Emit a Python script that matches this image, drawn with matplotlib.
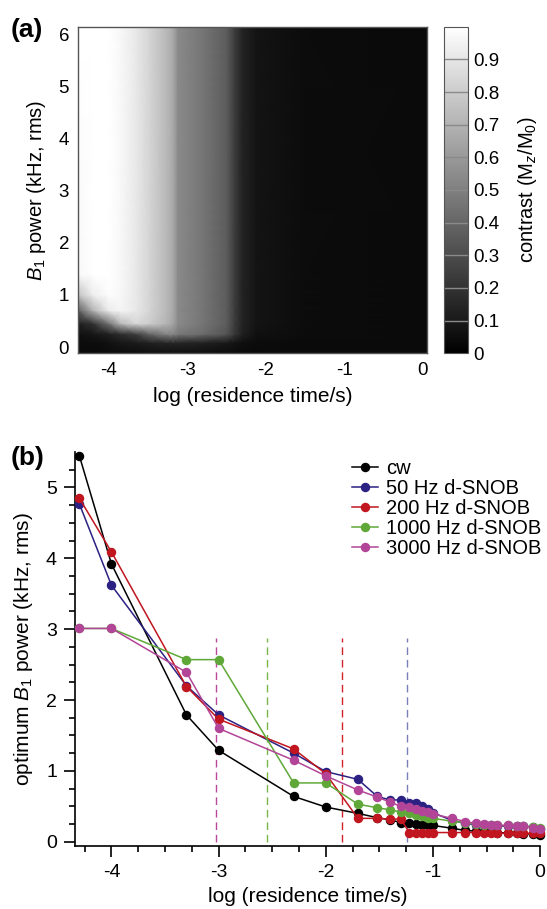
import matplotlib
matplotlib.use("Agg")
import matplotlib.pyplot as plt
import numpy as np

plt.rcParams['font.family'] = ['Liberation Sans', 'DejaVu Sans']
plt.rcParams['mathtext.fontset'] = 'custom'
plt.rcParams['mathtext.rm'] = 'Liberation Sans'
plt.rcParams['mathtext.it'] = 'Liberation Sans:italic'
plt.rcParams['axes.unicode_minus'] = False

# ---- panel (a): contrast map on a coarse grid ----
map_logt = [-4.4, -4.2, -4.0, -3.85, -3.65, -3.48, -3.26, -3.18, -3.12, -2.8, -2.5, -2.4,
            -2.3, -2.12, -1.5, 0.06]
map_b1 = [-0.12, 0.08, 0.25, 0.45, 0.7, 1.0, 1.4, 6.15]
map_contrast = [
    [0.04, 0.04, 0.05, 0.05, 0.05, 0.06, 0.06, 0.06, 0.06, 0.06, 0.05, 0.05, 0.04, 0.04, 0.04, 0.04],
    [0.05, 0.05, 0.07, 0.09, 0.11, 0.13, 0.15, 0.15, 0.15, 0.13, 0.10, 0.08, 0.06, 0.05, 0.04, 0.04],
    [0.07, 0.09, 0.13, 0.18, 0.25, 0.40, 0.52, 0.52, 0.48, 0.42, 0.33, 0.22, 0.13, 0.07, 0.05, 0.04],
    [0.12, 0.20, 0.45, 0.72, 0.84, 0.80, 0.70, 0.64, 0.54, 0.46, 0.36, 0.24, 0.14, 0.08, 0.05, 0.04],
    [0.35, 0.70, 0.92, 0.96, 0.91, 0.83, 0.72, 0.66, 0.54, 0.46, 0.36, 0.24, 0.14, 0.08, 0.05, 0.04],
    [0.75, 0.93, 0.99, 0.97, 0.91, 0.83, 0.72, 0.66, 0.54, 0.46, 0.36, 0.24, 0.14, 0.08, 0.05, 0.04],
    [0.97, 1.00, 1.00, 0.97, 0.91, 0.83, 0.72, 0.66, 0.54, 0.46, 0.36, 0.24, 0.14, 0.08, 0.05, 0.04],
    [1.00, 1.00, 1.00, 0.97, 0.91, 0.83, 0.72, 0.66, 0.54, 0.46, 0.36, 0.24, 0.14, 0.08, 0.05, 0.04],
]
cbar_ticks = [0, 0.1, 0.2, 0.3, 0.4, 0.5, 0.6, 0.7, 0.8, 0.9]

# ---- panel (b): optimum B1 power vs residence time ----
log_t = [-4.3, -4.0, -3.3, -3.0, -2.3, -2.0, -1.7, -1.52, -1.4, -1.3, -1.22, -1.155, -1.1,
         -1.046, -1.0, -0.82, -0.7, -0.6, -0.52, -0.456, -0.4, -0.3, -0.22, -0.155, -0.07, 0.0]
cw = [5.45, 3.92, 1.79, 1.29, 0.64, 0.49, 0.40, 0.34, 0.31, 0.27, 0.26, 0.25, 0.24,
      0.235, 0.23, 0.19, 0.16, 0.15, 0.14, 0.135, 0.13, 0.125, 0.12, 0.115, 0.11, 0.10]
snob_50 = [4.77, 3.62, 2.20, 1.79, 1.25, 0.99, 0.88, 0.64, 0.59, 0.59, 0.55, 0.54, 0.51,
           0.46, 0.41, 0.30, 0.26, 0.24, 0.23, 0.23, 0.22, 0.22, 0.22, 0.22, 0.21, 0.18]
snob_200 = [4.85, 4.09, 2.19, 1.73, 1.31, 0.96, 0.33, 0.33, 0.32, 0.32, 0.13, 0.13, 0.13,
            0.13, 0.13, 0.13, 0.13, 0.13, 0.12, 0.12, 0.12, 0.12, 0.12, 0.12, 0.12, 0.12]
snob_1000 = [3.01, 3.01, 2.57, 2.57, 0.83, 0.83, 0.53, 0.48, 0.45, 0.42, 0.40, 0.38, 0.36,
             0.34, 0.33, 0.29, 0.27, 0.25, 0.24, 0.235, 0.23, 0.23, 0.22, 0.22, 0.21, 0.19]
snob_3000 = [3.01, 3.01, 2.39, 1.60, 1.15, 0.93, 0.73, 0.63, 0.56, 0.50, 0.485, 0.465, 0.44,
             0.42, 0.39, 0.33, 0.285, 0.26, 0.255, 0.24, 0.23, 0.23, 0.22, 0.22, 0.20, 0.18]
series_labels = ['cw', '50 Hz d-SNOB', '200 Hz d-SNOB', '1000 Hz d-SNOB', '3000 Hz d-SNOB']
series_colors = ['#000000', '#2b2183', '#c1161f', '#5fa838', '#b24597']

# dashed markers of the optimum residence time per bandwidth
cut_logt = [-3.02, -2.55, -1.85, -1.24]
cut_top = 2.87
cut_colors = ['#b9479a', '#7ab648', '#d2232a', '#7b7fb8']

fig = plt.figure(figsize=(5.47, 9.09), dpi=100)
W, H = 547.0, 909.0

# panel (a)
ax_a = fig.add_axes([77.5 / W, 1 - 353.3 / H, 349.9 / W, 326.6 / H])
X, Y = np.meshgrid(map_logt, map_b1)
mesh = ax_a.pcolormesh(X, Y, np.array(map_contrast), cmap='gray', vmin=0, vmax=1.0,
                       shading='gouraud', rasterized=True)
ax_a.set_xlim(-4.4, 0.06)
ax_a.set_ylim(-0.12, 6.15)
ax_a.set_xticks([-4, -3, -2, -1, 0])
ax_a.set_yticks([0, 1, 2, 3, 4, 5, 6])
ax_a.tick_params(length=0, labelsize=13.5, pad=6)
for sp in ax_a.spines.values():
    sp.set_color('#555555')
    sp.set_linewidth(1.0)
ax_a.set_xlabel('log (residence time/s)', fontsize=15, labelpad=6)
ax_a.set_ylabel(r'$B_1$ power (kHz, rms)', fontsize=14.5, labelpad=8)

cax = fig.add_axes([443.8 / W, 1 - 353.3 / H, 23.8 / W, 326.6 / H])
cbar = fig.colorbar(mesh, cax=cax)
cbar.set_ticks(cbar_ticks)
cbar.set_ticklabels([f'{t:g}' for t in cbar_ticks])
cbar.ax.tick_params(length=0, labelsize=13.5, pad=4)
for t in cbar_ticks[1:]:
    cbar.ax.axhline(t, color='#8a8a8a', linewidth=1.0)
cbar.outline.set_edgecolor('#555555')
cbar.set_label(r'contrast (M$_z$/M$_0$)', fontsize=14.5, labelpad=12)

# panel (b)
ax_b = fig.add_axes([75 / W, 1 - 846 / H, 465.1 / W, 394 / H])
all_series = [cw, snob_50, snob_200, snob_1000, snob_3000]
for vals, lab, col in zip(all_series, series_labels, series_colors):
    ax_b.plot(log_t, vals, '-o', color=col, label=lab, linewidth=1.1,
              markersize=5.8, clip_on=False, zorder=3)
ax_b.vlines(cut_logt, 0, cut_top, colors=cut_colors, linewidth=1.0,
            linestyles=[(0, (5.5, 3.5))], zorder=2)

ax_b.set_xlim(-4.34, 0)
ax_b.set_ylim(-0.06, 5.5)
ax_b.set_xticks([-4, -3, -2, -1, 0])
ax_b.set_xticks(np.arange(-4.25, 0, 0.25), minor=True)
ax_b.set_yticks([0, 1, 2, 3, 4, 5])
ax_b.set_yticks(np.arange(0.25, 5.5, 0.25), minor=True)
ax_b.tick_params(which='major', direction='out', length=8, width=1.2, labelsize=14, pad=5)
ax_b.tick_params(which='minor', direction='out', length=4, width=1.2)
ax_b.spines['top'].set_visible(False)
ax_b.spines['right'].set_visible(False)
ax_b.spines['left'].set_linewidth(1.2)
ax_b.spines['bottom'].set_linewidth(1.2)
ax_b.set_xlabel('log (residence time/s)', fontsize=15, labelpad=4)
ax_b.set_ylabel(r'optimum $B_1$ power (kHz, rms)', fontsize=15, labelpad=8)

ax_b.legend(loc='upper left', bbox_to_anchor=(352 / W, 1 - 459 / H),
            bbox_transform=fig.transFigure, frameon=False, fontsize=14.5,
            handlelength=1.3, handletextpad=0.4, labelspacing=0.05,
            borderpad=0, borderaxespad=0, markerscale=1.0)

fig.text(11 / W, 1 - 30 / H, '(a)', fontsize=19, fontweight='bold', va='center', ha='left')
fig.text(11 / W, 1 - 458 / H, '(b)', fontsize=19, fontweight='bold', va='center', ha='left')

fig.savefig('out.png', dpi=100)
